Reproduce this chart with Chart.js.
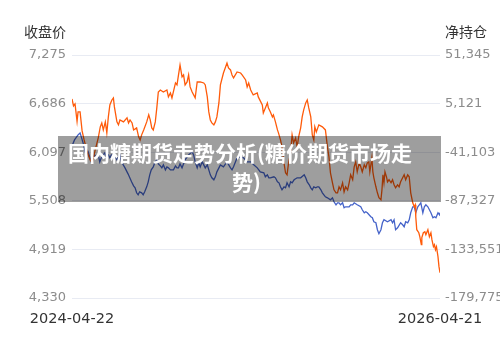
<!DOCTYPE html>
<html>
<head>
<meta charset="utf-8">
<script src="https://cdn.jsdelivr.net/npm/chart.js@4.4.0/dist/chart.umd.min.js"></script>
<style>
  html, body { margin: 0; padding: 0; background: #fff; }
  #wrap { position: relative; width: 500px; height: 340px; }
  canvas { display: block; }
  #banner {
    position: absolute; left: 58px; top: 136px; width: 383px; height: 66px;
    background: rgba(0, 0, 0, 0.38);
    color: #fff; font: bold 21px "Noto Sans CJK SC", sans-serif;
  }
  #banner div { position: absolute; white-space: nowrap; line-height: 28px; }
</style>
</head>
<body>
<div id="wrap">
  <canvas id="myChart" width="500" height="340"></canvas>
  <div id="banner">
    <div style="left:10px; top:2px;">国内糖期货走势分析(糖价期货市场走</div>
    <div style="left:174px; top:31px;">势)</div>
  </div>
</div>
<script>
// dates at the two ends of the x axis
var startDate = '2024-04-22';
var endDate = '2026-04-21';
var totalDays = 729;

// 收盘价 (left axis)
var closeTicks = [4330, 4919, 5508, 6097, 6686, 7275];
var closeDays = [0,3,6,10,12,16,20,24,28,32,36,40,46,52,56,59,62,66,69,72,75,79,82,84,89,92,95,102,109,112,115,119,122,128,132,135,138,142,148,152,155,158,161,165,168,171,175,181,188,191,195,198,205,208,211,214,218,221,224,228,231,234,238,244,248,254,261,264,268,271,274,277,281,284,287,291,294,300,307,310,314,317,320,327,334,337,344,347,350,354,359,367,369,377,379,383,387,389,393,397,399,403,407,409,413,416,419,423,426,429,433,436,439,443,446,449,453,456,459,463,466,469,473,476,479,481,484,489,496,502,506,509,512,516,519,523,526,529,532,536,539,542,546,549,552,556,559,562,565,569,572,575,579,582,585,588,590,594,596,598,602,605,608,612,614,616,618,620,623,625,628,632,635,638,641,645,648,651,655,658,661,665,668,671,675,678,680,681,683,687,689,692,693,696,699,701,705,708,711,713,716,718,720,722,725,727,729];
var closeValues = [6743,6658,6682,6470,6585,6585,6355,6246,6150,6065,6004,5968,6125,6271,6404,6452,6367,6464,6331,6525,6670,6730,6755,6646,6464,6428,6488,6464,6513,6452,6488,6452,6367,6392,6283,6246,6307,6367,6464,6549,6488,6392,6367,6464,6634,6827,6851,6827,6851,6767,6815,6755,6936,6912,7033,7154,7009,7033,6912,6948,7033,6888,6827,6755,6948,6948,6936,6912,6767,6585,6488,6452,6428,6464,6525,6694,6912,7057,7178,7118,7094,7033,6997,7069,7057,7033,6972,6888,6936,6851,6791,6815,6767,6670,6573,6634,6694,6634,6585,6525,6549,6464,6367,6331,6246,6162,6004,5847,5823,5968,6089,6307,6210,6271,6162,6283,6392,6525,6610,6694,6730,6634,6525,6307,6246,6404,6343,6428,6404,6367,6162,6041,5847,5726,5641,5605,5605,5678,5641,5726,5617,5678,5641,5726,5823,5763,5920,5980,5859,5968,5920,5859,5944,5908,5968,5980,5859,6029,5859,5787,5678,5605,5545,5521,5641,5823,5726,5859,5799,5738,5763,5726,5763,5702,5666,5702,5678,5738,5787,5823,5763,5823,5799,5605,5484,5436,5460,5315,5158,5121,5073,4976,5061,5121,5133,5097,5158,5073,5121,5037,4952,4976,4916,4952,4831,4710,4637];

// 净持仓 (right axis)
var posTicks = [-179775, -133551, -87327, -41103, 5121, 51345];
var posDays = [0,5,12,16,19,22,25,28,32,38,45,48,52,55,58,62,65,68,72,75,78,82,89,91,95,98,105,111,118,122,125,128,131,134,138,141,144,148,151,154,157,161,164,168,171,175,178,181,185,188,191,195,201,205,208,211,214,218,224,231,238,241,244,248,251,254,258,261,264,268,271,274,277,281,284,287,291,294,300,307,314,317,320,327,334,340,347,354,360,367,373,380,383,387,390,393,400,403,407,410,413,416,420,423,426,430,433,436,440,446,453,460,463,466,470,473,476,479,483,486,489,493,496,499,502,506,512,516,519,523,526,529,532,536,539,542,549,552,556,559,565,572,575,579,582,585,592,595,598,602,605,608,612,615,618,625,632,635,638,641,645,651,655,658,661,665,668,671,675,678,681,685,688,691,695,698,701,705,711,715,718,721,725,728,729];
var posValues = [-35087,-29388,-24639,-22739,-27488,-32237,-39836,-43635,-40786,-50284,-43635,-46484,-43635,-50284,-46484,-43635,-41735,-45535,-43635,-46484,-43635,-43635,-48384,-46484,-43635,-50284,-55982,-61681,-69280,-73079,-74978,-79727,-81627,-78778,-79727,-81627,-78778,-74029,-69280,-62631,-57882,-55033,-51233,-48384,-52183,-54083,-55982,-53133,-57882,-55033,-55982,-57882,-57882,-54083,-55982,-55982,-52183,-55982,-48384,-43635,-40786,-43635,-50284,-55982,-51233,-55033,-50284,-53133,-55982,-53133,-57882,-62631,-65480,-67380,-64530,-59782,-55982,-53133,-55033,-50284,-55982,-57882,-55033,-46484,-45535,-46484,-50284,-50284,-53133,-55982,-59782,-60731,-64530,-62631,-65480,-65480,-64530,-65480,-69280,-70229,-74029,-76878,-74029,-74978,-70229,-74029,-69280,-70229,-67380,-65480,-65480,-62631,-65480,-69280,-72129,-74978,-76878,-74029,-74978,-74029,-74029,-76878,-79727,-81627,-83527,-84477,-86376,-84477,-88276,-91125,-89226,-89226,-91125,-89226,-93975,-93025,-93025,-91125,-91125,-89226,-91125,-93025,-95874,-98724,-97774,-98724,-102523,-103473,-107272,-108221,-114870,-118669,-114870,-108221,-105372,-107272,-105372,-108221,-105372,-114870,-112971,-108221,-110121,-112021,-107272,-108221,-105372,-98724,-93025,-93025,-98724,-93025,-91125,-89226,-98724,-93025,-91125,-93025,-98724,-103473,-102523,-103473,-98724,-100623,-98724];

function toPoints(days, values) {
    return days.map(function(d, i) { return { x: d, y: values[i] }; });
}

function fixedTicks(list) {
    return function(scale) {
        scale.ticks = list.map(function(v) { return { value: v }; });
    };
}

var tickFont = { family: '"DejaVu Sans", "Noto Sans CJK SC"', size: 13 };

// the two axis captions above the tick columns
var axisCaptions = {
    id: 'axisCaptions',
    afterDraw: function(chart) {
        var ctx = chart.ctx;
        var area = chart.chartArea;
        ctx.save();
        ctx.font = '14px "DejaVu Sans", "Noto Sans CJK SC"';
        ctx.fillStyle = '#333';
        ctx.textBaseline = 'middle';
        ctx.textAlign = 'right';
        ctx.fillText('收盘价', area.left - 6, 33);
        ctx.textAlign = 'left';
        ctx.fillText('净持仓', area.right + 5, 33);
        ctx.restore();
    }
};

var ctx = document.getElementById('myChart').getContext('2d');
var chart = new Chart(ctx, {
    type: 'line',
    data: {
        datasets: [{
            label: '收盘价',
            data: toPoints(closeDays, closeValues),
            yAxisID: 'y',
            borderColor: '#ff5b0a',
            borderWidth: 1.3,
            pointRadius: 0,
            order: 0
        }, {
            label: '净持仓',
            data: toPoints(posDays, posValues),
            yAxisID: 'y1',
            borderColor: '#4563c9',
            borderWidth: 1.3,
            pointRadius: 0,
            order: 1
        }]
    },
    options: {
        responsive: false,
        animation: false,
        devicePixelRatio: 1,
        layout: { padding: { top: 55, left: 0, right: 0, bottom: 0 } },
        plugins: { legend: { display: false }, tooltip: { enabled: false } },
        scales: {
            x: {
                type: 'linear',
                min: 0,
                max: totalDays,
                afterBuildTicks: fixedTicks([0, totalDays]),
                afterFit: function(scale) { scale.height = 42; },
                grid: { display: false, drawTicks: false },
                border: { display: false },
                ticks: {
                    autoSkip: false,
                    maxRotation: 0,
                    padding: 13,
                    color: '#333',
                    font: { family: '"DejaVu Sans"', size: 14.5 },
                    callback: function(v) { return v === 0 ? startDate : endDate; }
                }
            },
            y: {
                position: 'left',
                min: closeTicks[0],
                max: closeTicks[closeTicks.length - 1],
                afterBuildTicks: fixedTicks(closeTicks),
                afterFit: function(scale) { scale.width = 72; },
                grid: { color: '#e8ebf3', drawTicks: false },
                border: { display: false },
                ticks: {
                    padding: 6,
                    color: '#8c8c8c',
                    font: tickFont,
                    callback: function(v) { return v.toLocaleString('en-US'); }
                }
            },
            y1: {
                position: 'right',
                min: posTicks[0],
                max: posTicks[posTicks.length - 1],
                afterBuildTicks: fixedTicks(posTicks),
                afterFit: function(scale) { scale.width = 60; },
                grid: { display: false, drawTicks: false },
                border: { display: false },
                ticks: {
                    padding: 5,
                    color: '#8c8c8c',
                    font: tickFont,
                    callback: function(v) { return v.toLocaleString('en-US'); }
                }
            }
        }
    },
    plugins: [axisCaptions]
});
</script>
</body>
</html>
